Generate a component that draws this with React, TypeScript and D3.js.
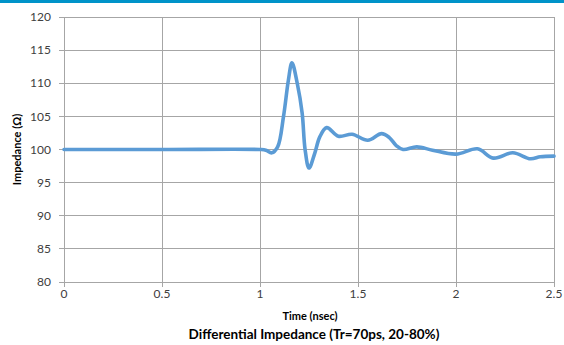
import React from "react";
import * as d3 from "d3";

const times = [0, 0.5, 1.0, 1.03, 1.06, 1.09, 1.12, 1.145, 1.163, 1.19, 1.215, 1.23, 1.25, 1.28, 1.305, 1.34, 1.40, 1.47, 1.55, 1.62, 1.66, 1.695, 1.73, 1.80, 1.88, 2.0, 2.11, 2.19, 2.29, 2.38, 2.43, 2.5];
const impedance = [100, 100, 100, 99.9, 99.5, 100.4, 105, 110.5, 113.1, 110, 105.5, 100, 97.2, 99.5, 101.9, 103.3, 102.0, 102.3, 101.4, 102.4, 101.8, 100.6, 100.0, 100.4, 99.9, 99.3, 100.1, 98.7, 99.5, 98.6, 98.9, 99.0];
const xTicks = [0, 0.5, 1, 1.5, 2, 2.5];
const xTickLabels = ["0", "0.5", "1", "1.5", "2", "2.5"];
const yTicks = [80, 85, 90, 95, 100, 105, 110, 115, 120];

const title = "Differential Impedance (Tr=70ps, 20-80%)";
const xTitle = "Time (nsec)";
const yTitle = "Impedance (Ω)";

export default function App() {
  const W = 564, H = 345;
  const left = 64, right = 554, top = 17, bottom = 282;
  const x = d3.scaleLinear().domain([0, 2.5]).range([left, right]);
  const y = d3.scaleLinear().domain([80, 120]).range([bottom, top]);
  const pts = times.map((t, i) => [t, impedance[i]] as [number, number]);
  const line = d3
    .line<[number, number]>()
    .x((d) => x(d[0]))
    .y((d) => y(d[1]))
    .curve(d3.curveCatmullRom.alpha(0.5));
  const font = "Lato, 'Open Sans', sans-serif";
  const grid = "#a6a6a6";
  return (
    <svg
      width={W}
      height={H}
      style={{ position: "absolute", left: 0, top: 0, background: "#fff" }}
      fontFamily={font}
    >
      <rect x={0} y={0} width={W} height={3} fill="#0093c9" />
      {yTicks.map((v) => (
        <g key={"y" + v}>
          <line x1={left - 5} x2={right} y1={y(v)} y2={y(v)} stroke={grid} strokeWidth={1} shapeRendering="crispEdges" />
          <text x={left - 13} y={y(v)} dy="0.35em" textAnchor="end" fontSize={12} fill="#404040">
            {v}
          </text>
        </g>
      ))}
      {xTicks.map((v, i) => (
        <g key={"x" + v}>
          <line x1={x(v)} x2={x(v)} y1={top} y2={bottom + 5} stroke={grid} strokeWidth={1} shapeRendering="crispEdges" />
          <text x={x(v)} y={bottom + 16} textAnchor="middle" fontSize={12} fill="#404040">
            {xTickLabels[i]}
          </text>
        </g>
      ))}
      <path d={line(pts) || ""} fill="none" stroke="#5b9bd5" strokeWidth={3.6} strokeLinejoin="round" strokeLinecap="round" />
      <text x={(left + right) / 2 + 1} y={bottom + 38} textAnchor="middle" fontSize={11} fontWeight="bold" fill="#000">
        {xTitle}
      </text>
      <text x={314} y={H - 6} textAnchor="middle" fontSize={13.5} fontWeight="bold" fill="#000">
        {title}
      </text>
      <text
        transform={`translate(21, ${(top + bottom) / 2}) rotate(-90)`}
        textAnchor="middle"
        fontSize={11}
        fontWeight="bold"
        fill="#000"
      >
        {yTitle}
      </text>
    </svg>
  );
}
